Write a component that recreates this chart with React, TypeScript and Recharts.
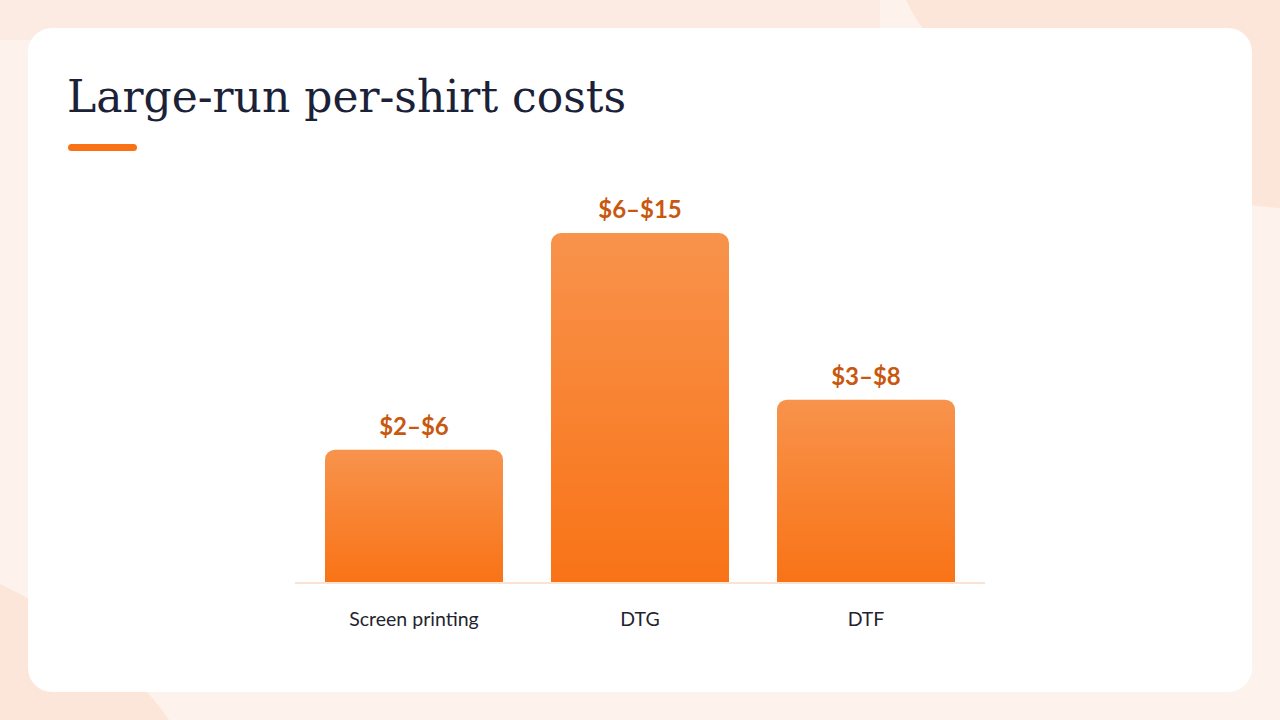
import { BarChart, Bar, XAxis, YAxis, LabelList } from "recharts";

// =====================================
// DATA
// =====================================

const methods = ["Screen printing", "DTG", "DTF"];

// midpoint of each price range, used for bar height
const midCost = [4, 10.5, 5.5];

const rangeLabels = ["$2–$6", "$6–$15", "$3–$8"];

const data = methods.map((method, i) => ({
  method,
  cost: midCost[i],
  range: rangeLabels[i],
}));

export default function App() {
  return (
    <div
      style={{
        position: "absolute",
        left: 0,
        top: 0,
        width: 1280,
        height: 720,
        overflow: "hidden",
        background: "#fdf2ec",
      }}
    >
      {/* background blobs */}
      <div
        style={{
          position: "absolute",
          left: 880,
          top: -420,
          width: 900,
          height: 630,
          borderRadius: "50%",
          background: "#fce6d9",
        }}
      />
      <div
        style={{
          position: "absolute",
          left: -700,
          top: 515,
          width: 910,
          height: 600,
          borderRadius: "40%",
          background: "#fce6d9",
          transform: "rotate(18deg)",
        }}
      />
      <div
        style={{
          position: "absolute",
          left: 0,
          top: 0,
          width: 880,
          height: 40,
          background: "#fcebe2",
        }}
      />

      {/* card */}
      <div
        style={{
          position: "absolute",
          left: 28,
          top: 28,
          width: 1224,
          height: 664,
          borderRadius: 24,
          background: "#ffffff",
        }}
      />

      <div
        style={{
          position: "absolute",
          left: 67,
          top: 67,
          fontFamily: "'DejaVu Serif', serif",
          fontSize: 44,
          color: "#1b2238",
          whiteSpace: "nowrap",
          lineHeight: "60px",
        }}
      >
        Large-run per-shirt costs
      </div>
      <div
        style={{
          position: "absolute",
          left: 68,
          top: 144,
          width: 69,
          height: 7,
          borderRadius: 4,
          background: "#f97316",
        }}
      />

      <div style={{ position: "absolute", left: 0, top: 0 }}>
        <BarChart
          width={1280}
          height={720}
          data={data}
          margin={{ top: 183, right: 295, bottom: 107, left: 295 }}
        >
          <defs>
            <linearGradient id="barFill" x1="0" y1="0" x2="0" y2="1">
              <stop offset="0%" stopColor="#f8934c" />
              <stop offset="100%" stopColor="#f97316" />
            </linearGradient>
          </defs>

          <XAxis
            dataKey="method"
            height={30}
            padding={{ left: 6, right: 6 }}
            axisLine={{ stroke: "#fbe3d4", strokeWidth: 2 }}
            tickLine={false}
            tickSize={6}
            tickMargin={23}
            tick={{
              fill: "#1f2430",
              fontSize: 19.5,
              fontFamily: "Lato, sans-serif",
            }}
          />

          <YAxis hide domain={[0, 12]} />

          <Bar
            dataKey="cost"
            barSize={178}
            fill="url(#barFill)"
            radius={[10, 10, 0, 0]}
            isAnimationActive={false}
          >
            <LabelList
              dataKey="range"
              position="top"
              offset={15}
              fill="#c9580f"
              fontSize={24}
              fontWeight={700}
              fontFamily="Lato, sans-serif"
            />
          </Bar>
        </BarChart>
      </div>
    </div>
  );
}
